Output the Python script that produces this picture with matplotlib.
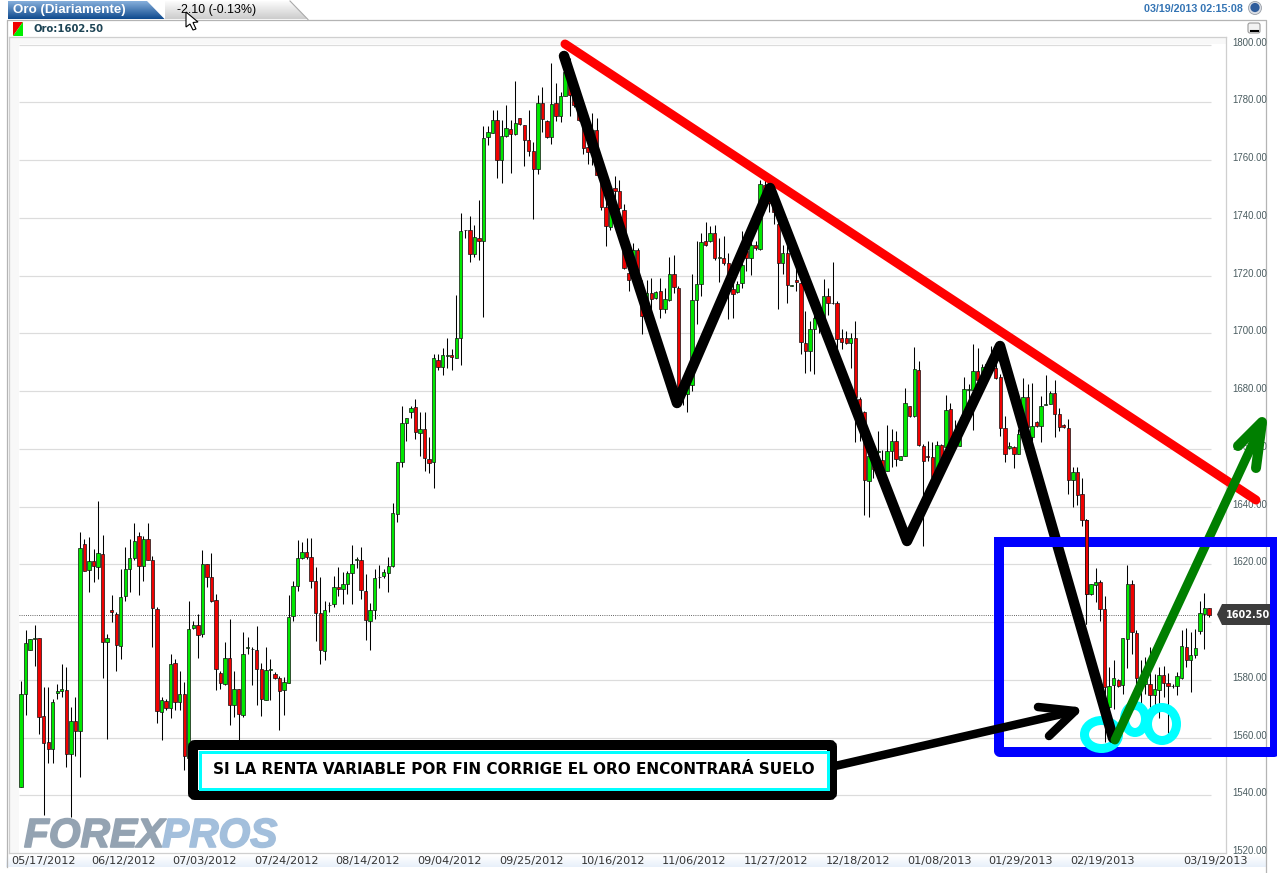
import numpy as np
import matplotlib
matplotlib.use("Agg")
import matplotlib.pyplot as plt
import matplotlib.patheffects as pe
from matplotlib.patches import Polygon, Ellipse, Rectangle, FancyBboxPatch, Circle
from matplotlib.transforms import ScaledTranslation

# ---------- data ----------
opens = [
1542.9,1575.2,1590.4,1594.0,1594.3,1567.3,1558.5,1556.0,1575.5,1576.0,
1576.6,1554.4,1565.7,1562.2,1627.0,1618.0,1621.0,1619.2,1623.4,1593.0,
1604.2,1602.8,1591.8,1608.9,1618.3,1622.1,1629.9,1619.5,1628.6,1621.5,
1604.5,1569.0,1572.6,1570.3,1585.7,1572.4,1575.1,1553.0,1597.8,1599.0,
1595.8,1620.0,1615.6,1607.7,1582.3,1578.4,1587.6,1571.4,1576.9,1567.9,
1591.0,1590.5,1590.4,1583.7,1573.1,1583.5,1581.9,1580.7,1576.3,1578.9,
1602.0,1612.5,1622.1,1624.4,1622.4,1614.3,1603.1,1590.1,1605.8,1606.3,
1612.0,1611.3,1613.0,1616.9,1621.5,1621.5,1610.9,1600.3,1604.2,1615.5,
1616.1,1617.0,1619.4,1637.4,1655.5,1668.8,1672.7,1674.3,1665.6,1667.0,
1656.4,1655.3,1690.9,1688.4,1692.2,1692.6,1691.6,1698.5,1735.6,1735.8,
1727.6,1733.0,1732.1,1767.8,1769.3,1773.8,1760.1,1768.2,1770.8,1769.0,
1774.7,1772.2,1767.0,1763.1,1757.0,1779.7,1773.4,1767.8,1779.6,1775.1,
1782.0,1790.6,1782.6,1778.5,1771.3,1764.4,1764.1,1770.4,1752.6,1743.7,
1736.9,1750.3,1749.2,1742.8,1720.9,1721.5,1729.0,1713.4,1711.7,1714.0,
1712.1,1714.8,1708.5,1711.4,1720.6,1715.8,1679.0,1679.0,1682.0,1711.4,
1716.9,1732.1,1731.9,1734.8,1726.2,1726.1,1724.4,1715.2,1714.4,1717.5,
1728.4,1726.1,1730.5,1729.3,1751.5,1748.0,1745.0,1737.9,1724.4,1727.9,
1716.5,1718.3,1717.5,1696.5,1693.7,1701.6,1704.0,1705.2,1712.8,1710.4,
1710.4,1698.2,1698.5,1696.5,1698.5,1677.4,1672.6,1649.0,1657.0,1659.0,
1656.1,1652.4,1659.3,1662.6,1656.2,1657.6,1674.8,1671.2,1687.4,1661.1,
1657.4,1657.0,1651.8,1661.3,1660.5,1673.6,1663.0,1661.1,1668.5,1680.4,
1680.5,1687.0,1684.7,1687.0,1688.1,1688.1,1684.7,1667.1,1660.3,1660.7,
1658.3,1665.1,1677.8,1663.9,1669.4,1668.0,1675.1,1675.5,1679.3,1672.0,
1668.2,1667.2,1649.2,1651.8,1644.4,1635.4,1609.8,1612.9,1614.0,1604.6,
1570.6,1578.3,1579.8,1578.3,1594.2,1613.2,1596.3,1580.5,1578.6,1578.6,
1574.7,1576.6,1581.5,1579.0,1577.7,1577.8,1580.7,1591.5,1586.9,1588.7,
1596.9,1602.8,1604.9]
closes = [
1574.9,1592.8,1594.2,1594.3,1567.1,1558.1,1556.0,1572.3,1576.1,1576.8,
1554.4,1565.7,1562.3,1625.5,1617.8,1621.0,1619.3,1623.8,1593.0,1594.3,
1603.4,1592.2,1608.8,1618.3,1622.1,1627.9,1619.4,1628.7,1621.6,1604.9,
1569.3,1573.1,1570.3,1585.5,1572.4,1575.1,1553.5,1597.6,1599.1,1595.6,
1620.2,1615.7,1607.2,1583.8,1578.9,1587.7,1571.1,1576.7,1568.3,1589.0,
1591.2,1590.6,1583.8,1573.4,1583.5,1583.8,1580.7,1576.1,1579.2,1601.9,
1612.5,1622.1,1624.2,1622.4,1614.3,1603.1,1590.4,1604.0,1606.0,1612.0,
1611.3,1613.2,1616.9,1620.2,1621.7,1611.1,1600.7,1604.0,1615.4,1615.7,
1617.3,1619.4,1637.7,1655.5,1668.8,1670.6,1674.0,1665.9,1667.0,1656.8,
1655.0,1691.6,1688.4,1692.3,1692.4,1691.9,1698.5,1735.3,1735.8,1727.6,
1733.3,1731.9,1767.6,1769.8,1773.7,1760.1,1768.2,1771.0,1769.1,1772.7,
1772.3,1766.9,1763.0,1757.0,1779.6,1774.2,1767.8,1779.3,1775.1,1782.0,
1790.6,1782.6,1779.1,1773.9,1764.1,1762.8,1770.4,1754.9,1743.7,1737.1,
1743.4,1749.2,1743.4,1722.7,1718.6,1728.7,1721.5,1706.0,1714.0,1711.7,
1714.4,1708.5,1711.7,1720.4,1716.1,1678.9,1681.0,1682.0,1711.4,1716.9,
1731.6,1730.5,1734.8,1726.1,1726.4,1724.2,1716.9,1713.7,1717.2,1723.8,
1726.1,1730.5,1729.6,1751.7,1748.0,1745.0,1742.0,1724.4,1727.9,1716.6,
1716.7,1717.7,1696.8,1693.7,1701.6,1705.4,1706.0,1712.9,1710.5,1710.6,
1697.9,1697.0,1696.5,1698.2,1677.8,1673.2,1649.2,1657.6,1653.0,1659.2,
1653.0,1659.3,1662.6,1656.5,1657.6,1675.7,1671.4,1687.6,1661.3,1655.9,
1657.0,1650.1,1661.3,1656.5,1673.5,1662.8,1665.0,1668.5,1680.6,1680.6,
1687.0,1683.8,1688.4,1689.3,1692.2,1684.4,1667.1,1658.2,1660.9,1658.2,
1665.0,1677.8,1667.4,1668.0,1667.9,1674.9,1675.5,1679.3,1672.0,1667.7,
1667.4,1649.2,1651.8,1644.0,1635.4,1609.8,1613.0,1613.8,1604.6,1577.5,
1578.0,1580.6,1578.0,1594.6,1613.0,1596.5,1580.6,1578.6,1581.0,1574.6,
1576.7,1581.5,1579.0,1577.8,1577.9,1581.3,1591.7,1586.9,1588.7,1591.0,
1603.1,1604.9,1602.5]
highs = [
1579.5,1597.3,1594.2,1598.8,1594.3,1577.5,1577.5,1573.4,1578.6,1585.5,
1584.4,1570.6,1574.0,1631.0,1628.7,1629.3,1625.3,1642.0,1630.2,1595.9,
1609.2,1603.4,1618.4,1625.9,1628.7,1634.2,1631.0,1629.9,1634.2,1623.0,
1605.1,1574.0,1573.4,1588.8,1587.3,1582.9,1579.2,1607.4,1600.2,1602.8,
1625.1,1620.1,1623.9,1609.7,1583.2,1593.0,1601.1,1583.0,1576.9,1596.4,
1594.8,1591.3,1598.7,1585.8,1591.3,1587.3,1582.7,1581.2,1580.9,1609.4,
1614.3,1628.4,1627.6,1629.1,1629.1,1619.2,1615.7,1607.4,1606.9,1616.1,
1619.2,1617.2,1617.8,1626.7,1622.6,1625.9,1616.6,1606.6,1618.4,1619.9,
1618.4,1622.6,1641.2,1655.5,1674.9,1670.8,1674.9,1677.2,1672.6,1672.6,
1663.9,1692.9,1692.7,1695.0,1698.5,1694.4,1713.1,1741.7,1735.9,1740.5,
1737.6,1746.3,1771.9,1771.9,1777.4,1777.4,1773.7,1779.1,1773.9,1787.4,
1774.7,1772.2,1777.4,1766.4,1782.6,1785.4,1773.9,1793.5,1786.6,1783.7,
1796.4,1795.2,1787.2,1782.6,1775.1,1772.2,1776.2,1774.5,1755.5,1745.7,
1750.3,1754.6,1753.2,1744.6,1730.7,1731.3,1729.6,1718.6,1718.6,1719.2,
1714.6,1719.2,1715.5,1726.4,1727.0,1716.3,1683.0,1685.8,1720.4,1731.9,
1734.8,1738.6,1737.1,1737.6,1733.0,1733.6,1727.8,1718.1,1718.1,1735.3,
1731.3,1733.0,1731.9,1753.2,1753.0,1752.0,1747.0,1738.8,1730.5,1733.1,
1716.8,1723.8,1718.1,1707.7,1704.3,1707.7,1708.0,1718.7,1715.8,1724.7,
1711.2,1701.4,1700.8,1700.2,1704.3,1677.8,1673.0,1659.3,1660.0,1666.2,
1659.6,1668.3,1666.8,1666.2,1657.6,1681.0,1674.9,1695.3,1690.4,1661.6,
1662.8,1662.2,1662.8,1661.6,1678.7,1676.0,1670.0,1670.9,1684.9,1682.4,
1696.2,1695.0,1689.3,1689.9,1695.6,1690.4,1685.8,1671.4,1662.2,1661.1,
1666.8,1684.4,1682.4,1682.9,1669.7,1678.3,1685.6,1680.0,1683.9,1674.1,
1668.5,1670.3,1653.6,1653.8,1649.9,1635.7,1613.0,1618.7,1614.6,1608.9,
1584.4,1586.7,1580.3,1594.6,1619.6,1614.4,1597.1,1586.7,1588.0,1591.3,
1582.1,1584.4,1584.7,1582.4,1578.7,1582.7,1597.4,1598.0,1596.7,1597.7,
1607.4,1610.1,1604.9]
lows = [
1542.9,1567.7,1590.2,1584.6,1561.1,1533.1,1551.0,1551.0,1573.2,1574.0,
1549.8,1532.5,1553.5,1546.4,1617.6,1610.3,1613.8,1614.9,1580.7,1559.4,
1599.9,1583.0,1587.3,1607.2,1610.3,1621.3,1609.2,1614.3,1621.3,1591.3,
1565.0,1559.0,1569.4,1566.9,1569.4,1569.4,1548.7,1552.0,1597.6,1587.6,
1594.8,1612.0,1606.9,1576.6,1576.9,1578.1,1564.5,1567.1,1557.0,1567.1,
1589.0,1578.1,1571.1,1567.3,1572.9,1572.9,1580.4,1562.5,1567.9,1578.9,
1600.3,1610.7,1621.8,1621.8,1611.8,1593.4,1585.3,1587.0,1603.3,1605.1,
1608.9,1606.3,1609.7,1606.3,1618.7,1608.0,1593.8,1590.4,1601.1,1611.8,
1615.3,1610.3,1618.9,1634.5,1653.8,1662.8,1670.8,1663.3,1657.6,1652.4,
1651.5,1646.4,1687.2,1685.5,1687.9,1687.2,1691.3,1688.9,1733.0,1724.6,
1726.5,1725.3,1705.6,1765.3,1769.3,1753.8,1752.0,1767.9,1755.5,1768.7,
1772.2,1757.8,1761.3,1739.4,1755.2,1769.7,1767.6,1765.5,1773.4,1773.1,
1782.0,1775.1,1778.5,1773.4,1762.1,1758.6,1758.4,1754.9,1742.8,1730.2,
1735.9,1744.6,1742.8,1722.1,1714.8,1721.5,1713.4,1699.9,1704.8,1705.4,
1711.7,1705.4,1707.1,1711.1,1713.8,1677.2,1675.0,1672.6,1680.0,1703.1,
1712.9,1730.2,1731.6,1725.5,1717.8,1723.6,1704.8,1705.4,1714.0,1715.8,
1721.5,1720.1,1729.0,1728.7,1745.0,1742.0,1738.0,1708.3,1720.4,1710.6,
1716.4,1714.6,1692.7,1686.1,1687.0,1685.8,1700.0,1704.8,1706.2,1710.0,
1694.5,1694.5,1696.2,1687.8,1662.2,1662.8,1636.9,1636.3,1650.0,1654.7,
1652.4,1652.4,1653.6,1654.1,1656.1,1657.6,1671.1,1671.0,1661.1,1626.2,
1655.9,1650.1,1651.8,1654.7,1660.5,1662.8,1660.0,1661.1,1668.5,1672.0,
1666.5,1683.8,1684.7,1685.8,1687.9,1684.1,1664.5,1655.3,1659.9,1653.3,
1658.2,1665.1,1667.4,1662.6,1667.4,1662.5,1675.1,1675.5,1664.2,1666.2,
1667.2,1644.4,1639.7,1640.6,1633.1,1599.4,1609.2,1606.9,1600.3,1558.3,
1566.0,1570.0,1577.5,1574.9,1583.9,1589.0,1571.7,1570.6,1575.0,1570.6,
1571.1,1566.9,1574.0,1561.4,1577.3,1574.6,1580.4,1584.4,1575.8,1587.6,
1595.9,1590.7,1601.6]
last_price = 1602.50
price_ticks = [1520, 1540, 1560, 1580, 1600, 1620, 1640, 1660, 1680, 1700, 1720, 1740, 1760, 1780, 1800]
date_labels = ["05/17/2012", "06/12/2012", "07/03/2012", "07/24/2012", "08/14/2012",
               "09/04/2012", "09/25/2012", "10/16/2012", "11/06/2012", "11/27/2012",
               "12/18/2012", "01/08/2013", "01/29/2013", "02/19/2013", "03/19/2013"]
date_slots = [4.9, 22.5, 40.5, 58.5, 76.5, 94.5, 112.5, 130.5, 148.5, 166.5, 184.5, 202.5, 220.5, 238.5, 263.5]
note = "SI LA RENTA VARIABLE POR FIN CORRIGE EL ORO ENCONTRARÁ SUELO"

# ---------- layout (pixels) ----------
W, H = 1277, 873
FL, FR, FT, FB = 9, 1225.6, 37, 853   # chart frame
X0, STEP = 21, 4.534                  # pixel of candle 0, pixels per candle
Y1520, PXU = 853.0, 2.8875            # pixel of price 1520, pixels per price unit

fig = plt.figure(figsize=(W / 100, H / 100), dpi=100, facecolor="white")

def full_axes(z):
    a = fig.add_axes([0, 0, 1, 1], zorder=z)
    a.set_xlim(0, W); a.set_ylim(H, 0); a.axis("off")
    return a

bg = full_axes(0)
top = full_axes(3)

def gradient(a, poly, c1, c2, z=1):
    grad = np.linspace(0, 1, 64)[:, None, None]
    img = (1 - grad) * np.array(matplotlib.colors.to_rgb(c1)) + grad * np.array(matplotlib.colors.to_rgb(c2))
    xs = [p[0] for p in poly]; ys = [p[1] for p in poly]
    im = a.imshow(img, extent=(min(xs), max(xs), max(ys), min(ys)), aspect="auto", zorder=z, interpolation="bilinear")
    clip = Polygon(poly, closed=True, transform=a.transData, facecolor="none", edgecolor="none")
    a.add_patch(clip)
    im.set_clip_path(clip)
    a.set_xlim(0, W); a.set_ylim(H, 0)

# outer furniture
bg.add_patch(Rectangle((FL, FT), 10, FB - FT, fc="#f8f8f8", ec="none", zorder=0.5))
bg.add_patch(Rectangle((FL, FT), FR - FL, 7, fc="#f8f8f8", ec="none", zorder=0.5))
gradient(bg, [(6, 855), (1266, 855), (1266, 867), (6, 867)], "#ffffff", "#e8f0fa", z=0.6)
bg.plot([6.5, 6.5, 1266, 1266], [867, 19.5, 19.5, 873], color="#b4b4b4", lw=0.9, zorder=0.7)

# watermark sits under the candles
for wm_text, wm_x, wm_col in [("FOREX", 24, "#94a3b2"), ("PROS", 162, "#a3bfdc")]:
    t = bg.text(wm_x, 847, wm_text, fontsize=29.3, color=wm_col, family="Liberation Sans", weight="bold",
                style="italic", ha="left", va="baseline", zorder=0.8)
    t.set_path_effects([pe.withStroke(linewidth=1.2, foreground=wm_col)])

# ---------- candles ----------
ax = fig.add_axes([FL / W, 1 - FB / H, (FR - FL) / W, (FB - FT) / H], zorder=1)
ax.patch.set_alpha(0)
xlim = ((FL - X0) / STEP, (FR - X0) / STEP)
ylim = (1520, 1520 + (FB - FT) / PXU)
ax.set_xlim(*xlim)
ax.set_ylim(*ylim)

o = np.array(opens); c = np.array(closes); hi = np.array(highs); lo = np.array(lows)
idx = np.arange(len(o))
grid_end = (1211 - X0) / STEP
grid_start = (19 - X0) / STEP
ax.hlines(price_ticks[1:], grid_start, grid_end, color="#dcdcdc", lw=0.85, zorder=1)
ax.hlines(last_price, grid_start, grid_end, color="#333333", lw=0.6, linestyles=(0, (1, 1.6)), zorder=1.5)

def candles(a, sel):
    a.vlines(idx[sel], lo[sel], hi[sel], color="black", lw=0.75, zorder=2)
    cols = np.where(c[sel] >= o[sel], "#00e800", "#f00000").tolist()
    a.bar(idx[sel], np.maximum(np.abs(c[sel] - o[sel]), 0.15), bottom=np.minimum(o[sel], c[sel]),
          width=0.74, color=cols, edgecolor="#111111", linewidth=0.5, zorder=3)

candles(ax, np.ones(len(o), dtype=bool))

for s in ("left", "bottom", "right", "top"):
    ax.spines[s].set_color("#cfcfcf"); ax.spines[s].set_linewidth(0.9)
ax.yaxis.tick_right()
ax.set_yticks(price_ticks)
# the 1600 label is hidden behind the last-price flag in the reference
ax.set_yticklabels(["" if p == 1600 else f"{p:.2f}" for p in price_ticks],
                   fontsize=6.9, color="#4a5c60", family="Liberation Sans")
ax.tick_params(axis="y", length=0, pad=4.5)
for lab in ax.get_yticklabels():
    lab.set_transform(lab.get_transform() + ScaledTranslation(0, 2 / 72, fig.dpi_scale_trans))
ax.set_xticks(date_slots)
ax.set_xticklabels(date_labels, fontsize=8.1, color="#333333", family="DejaVu Sans")
ax.tick_params(axis="x", length=0, pad=2.5)

# ---------- header ----------
gradient(top, [(8, 1), (147, 1), (165, 19.5), (8, 19.5)], "#8db5e0", "#0f4a8e", z=1)
gradient(top, [(165, 1), (290, 1), (308, 19.5), (165, 19.5)], "#ffffff", "#cccccc", z=1)
top.plot([290, 308], [1, 19.5], color="#aaaaaa", lw=0.8, zorder=1.2)
top.text(13, 9.5, "Oro (Diariamente)", color="white", fontsize=9.6, weight="bold",
         family="Liberation Sans", va="center", ha="left", zorder=2)
top.text(177, 9.5, "-2.10 (-0.13%)", color="black", fontsize=8.9, family="Liberation Sans",
         va="center", ha="left", zorder=2)
top.add_patch(Polygon([(186, 12), (186, 27), (190, 24), (193, 30), (196, 29), (193, 22.5), (198, 22)],
                      closed=True, fc="white", ec="black", lw=0.8, zorder=3))
top.text(33, 28.5, "Oro:1602.50", color="#1d4455", fontsize=7.2, weight="bold", family="DejaVu Sans",
         va="center", ha="left", zorder=2)
top.add_patch(Polygon([(13, 22), (23, 22), (13, 36)], closed=True, fc="#f00000", ec="none", zorder=2))
top.add_patch(Polygon([(23, 22), (23, 36), (13, 36)], closed=True, fc="#00ee00", ec="none", zorder=2))
top.text(1243, 9.5, "03/19/2013 02:15:08", color="#3474b4", fontsize=7.7, family="Liberation Sans",
         weight="bold", va="center", ha="right", zorder=2)
top.add_patch(Circle((1255, 8), 6.5, fc="#d9dde4", ec="#9aa0a8", lw=0.6, zorder=2))
top.add_patch(Circle((1255, 7.5), 4.6, fc="#2f5d9c", ec="none", zorder=2.1))
top.add_patch(FancyBboxPatch((1248, 23), 12, 10, boxstyle="round,pad=0,rounding_size=2",
                             fc="#f2f2f2", ec="#9a9a9a", lw=0.8, zorder=2))
top.plot([1250.5, 1257.5], [30.5, 30.5], color="black", lw=1.5, zorder=2.1)

# ---------- last price flag ----------
top.add_patch(Polygon([(1217, 614.5), (1222, 604), (1272, 604), (1272, 625), (1222, 625)],
                      closed=True, fc="#3c3c3c", ec="none", zorder=2))
top.text(1225.5, 614.5, "1602.50", color="white", fontsize=7, weight="bold", family="DejaVu Sans",
         va="center", ha="left", zorder=2.1)

# ---------- hand-drawn overlays ----------
def line(pts, color, px, z):
    xs, ys = zip(*pts)
    top.plot(xs, ys, color=color, lw=px * 0.72, solid_capstyle="round", solid_joinstyle="round", zorder=z)

BLUE = "#0000ff"
top.add_patch(FancyBboxPatch((999, 542), 276, 210, boxstyle="round,pad=0,rounding_size=1",
                             fc="none", ec=BLUE, lw=10 * 0.72, joinstyle="round", zorder=3.5))
for (cx, cy, w_, h_) in [(1101.5, 734.5, 34, 28), (1135, 719, 21, 27), (1162, 724, 29, 33)]:
    top.add_patch(Ellipse((cx, cy), w_, h_, fc="none", ec="#00ffff", lw=9 * 0.72, zorder=4))

line([(565, 44), (1256, 500)], "#ff0000", 9, 5.5)
line([(564, 56), (677, 403), (770, 188), (907, 541), (1000, 346), (1113, 738)], "black", 10.5, 6)
line([(835, 766), (1075, 711)], "black", 8.5, 6)
line([(1038, 707), (1075, 711), (1049, 736)], "black", 8.5, 6)
line([(1115, 740), (1262, 424)], "#007f00", 9, 7)
line([(1238, 446), (1262, 422), (1256, 468)], "#007f00", 10, 7)
top.add_patch(Polygon([(1252, 432), (1263, 419), (1258, 448)], closed=True, fc="#007f00", ec="none", zorder=7))

# the top band of the box runs over the hand-drawn lines
top.add_patch(Rectangle((994, 537), 283, 10, fc=BLUE, ec="none", zorder=7.5))

# ---------- note box ----------
top.add_patch(FancyBboxPatch((193, 745), 639, 50, boxstyle="round,pad=0,rounding_size=2",
                             fc="white", ec="black", lw=10 * 0.72, zorder=8))
top.add_patch(Rectangle((199.5, 751.5), 628, 37.5, fc="white", ec="#00ffff", lw=3 * 0.72, zorder=8.1))
top.text(514, 769, note, color="black", fontsize=11, weight="bold", family="DejaVu Sans",
         va="center", ha="center", zorder=9)

# ---------- candles that the reference shows above the box's top band ----------
front = fig.add_axes(ax.get_position(), zorder=4)
front.patch.set_alpha(0)
front.set_xlim(*xlim); front.set_ylim(*ylim); front.axis("off")
band_price = 1520 + (FB - 542) / PXU
candles(front, (lo <= band_price) & (hi >= band_price) & (idx > (994 - X0) / STEP))

fig.savefig("out.png", dpi=100, facecolor="white")
